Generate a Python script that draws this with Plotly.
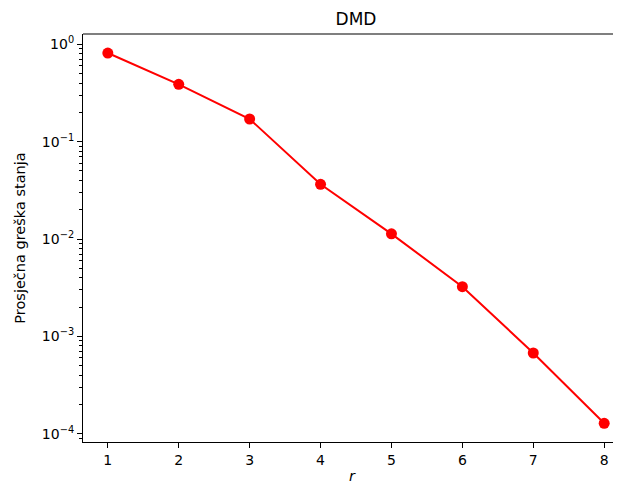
import plotly.graph_objects as go

r_values = [1, 2, 3, 4, 5, 6, 7, 8]
avg_error = [0.814, 0.388, 0.171, 0.0365, 0.0113, 0.00324, 0.000675, 0.000128]
decades = [0, -1, -2, -3, -4]
decade_labels = ["10<sup>0</sup>", "10<sup>−1</sup>", "10<sup>−2</sup>", "10<sup>−3</sup>", "10<sup>−4</sup>"]

major_vals = [10.0 ** d for d in decades]
minor_vals = [m * 10.0 ** d for d in range(-5, 1) for m in range(2, 10)]

# page body has an 8px default margin; figure fills the rest of the window
OFF = 8
W, H = 621 - OFF, 488 - OFF
L, T = 83 - OFF, 34 - OFF
B = H - (442 - OFF)
R = 0
FONT = "DejaVu Sans"

fig = go.Figure()
fig.add_trace(go.Scatter(
    x=r_values, y=avg_error, mode="lines+markers",
    line=dict(color="#ff0000", width=2),
    marker=dict(color="#ff0000", size=11),
    showlegend=False,
))

fig.update_layout(
    width=W, height=H,
    margin=dict(l=L, r=R, t=T, b=B),
    paper_bgcolor="white", plot_bgcolor="white",
    font=dict(family=FONT, size=14, color="black"),
    title=dict(text="DMD", x=(356 - OFF) / W, xref="container",
               y=1 - (19 - OFF) / H, yref="container", xanchor="center", yanchor="middle",
               font=dict(size=17, family=FONT, color="black")),
)
fig.update_xaxes(
    range=[0.65, 8.237],
    tickvals=r_values, ticktext=[str(v) for v in r_values],
    ticks="outside", ticklen=5, tickwidth=1, tickcolor="black",
    showline=True, linecolor="black", linewidth=1.1, mirror=False,
    showgrid=False, zeroline=False,
    title=dict(text="<i>r</i>", font=dict(size=14.5, family=FONT), standoff=4),
)
fig.update_yaxes(
    type="log", range=[-4.085, 0.106],
    tickvals=major_vals, ticktext=decade_labels,
    ticks="outside", ticklen=5, tickwidth=1, tickcolor="black",
    minor=dict(tickvals=minor_vals, ticks="outside", ticklen=3, tickwidth=0.8, tickcolor="black", showgrid=False),
    showline=True, linecolor="black", linewidth=1.1,
    showgrid=False, zeroline=False,
    title=dict(text="Prosječna greška stanja", font=dict(size=14.5, family=FONT), standoff=12),
)
# top spine
fig.add_shape(type="line", xref="paper", yref="paper", x0=0, x1=1, y0=1, y1=1,
              line=dict(color="black", width=1.1))

fig.write_html("out.html")
